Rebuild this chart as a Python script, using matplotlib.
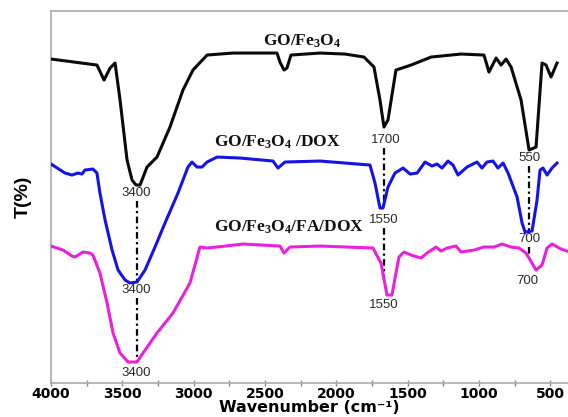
"""FTIR spectra of GO/Fe3O4, GO/Fe3O4/DOX and GO/Fe3O4/FA/DOX (stacked, offset)."""

import matplotlib

matplotlib.use("Agg")
import matplotlib.pyplot as plt
import numpy as np

plt.rcParams["mathtext.fontset"] = "custom"
plt.rcParams["mathtext.rm"] = "Liberation Serif:bold"
plt.rcParams["mathtext.it"] = "Liberation Serif:bold"
plt.rcParams["mathtext.bf"] = "Liberation Serif:bold"

# wavenumber (cm-1) / transmittance (arb., offset)
go_fe3o4_wn = [4000, 3678, 3628, 3586, 3551, 3516, 3467, 3432, 3404, 3376, 3327,
               3257, 3166, 3075, 3005, 2906, 2724, 2584, 2416, 2395, 2367, 2346,
               2318, 2114, 1939, 1806, 1736, 1694, 1666, 1638, 1582, 1476, 1336,
               1126, 965, 930, 880, 845, 810, 775, 705, 649, 600, 558, 530, 495, 453]
go_fe3o4_t = [324, 318, 303, 315, 320, 283, 223, 203, 198, 198, 216,
              226, 256, 293, 313, 328, 330, 330, 330, 321, 313, 315,
              328, 330, 329, 326, 316, 283, 256, 263, 313, 318, 326,
              329, 328, 311, 325, 318, 324, 316, 283, 233, 236, 320, 318, 306, 320]

dox_wn = [4000, 3902, 3853, 3811, 3783, 3762, 3706, 3678, 3657, 3621, 3572,
          3530, 3481, 3446, 3397, 3341, 3271, 3201, 3110, 3040, 3012, 2977,
          2941, 2906, 2836, 2675, 2444, 2409, 2360, 2114, 1764, 1729, 1694,
          1673, 1638, 1624, 1589, 1532, 1483, 1434, 1378, 1329, 1294, 1259,
          1217, 1182, 1147, 1084, 1014, 979, 944, 902, 867, 831, 796, 733,
          698, 677, 628, 593, 572, 551, 523, 488, 453]
dox_t = [219, 210, 208, 210, 209, 213, 214, 210, 190, 163, 133,
         113, 103, 100, 101, 113, 136, 160, 190, 216, 221, 216,
         216, 221, 226, 225, 222, 215, 221, 222, 218, 200, 175,
         175, 196, 200, 210, 215, 209, 210, 221, 217, 219, 215,
         222, 218, 208, 216, 221, 215, 221, 222, 215, 220, 210, 186,
         160, 151, 152, 183, 213, 215, 208, 215, 220]

fa_dox_wn = [4000, 3916, 3853, 3832, 3776, 3727, 3706, 3657, 3607, 3565, 3516,
             3460, 3397, 3355, 3257, 3145, 3026, 2956, 2906, 2836, 2654, 2395,
             2367, 2325, 2114, 1743, 1687, 1645, 1610, 1561, 1525, 1476, 1406,
             1364, 1301, 1266, 1224, 1161, 1126, 1035, 965, 895, 838, 775, 719,
             670, 600, 558, 523, 488, 425, 383]
fa_dox_t = [137, 133, 127, 126, 131, 130, 128, 110, 80, 50, 30,
            21, 21, 30, 50, 70, 100, 136, 135, 136, 139, 137,
            130, 136, 137, 135, 120, 88, 88, 126, 131, 128, 125,
            130, 136, 132, 135, 137, 131, 133, 136, 136, 139, 136, 135,
            130, 113, 118, 135, 139, 134, 132]

series_names = [r"GO/Fe$_3$O$_4$", r"GO/Fe$_3$O$_4$ /DOX", r"GO/Fe$_3$O$_4$/FA/DOX"]
series_colors = ["#0a0a0a", "#1414e6", "#ea1fe0"]

# marked bands: where the dash-dot guide sits, and the labels printed per curve
band_wn = [3400, 1665, 650]
band_labels = [["3400", "3400", "3400"], ["1700", "1550", "1550"], ["550", "700", "700"]]

fig = plt.figure(figsize=(5.68, 4.17), dpi=100)
ax = fig.add_axes([0.0898, 0.0815, 0.9102, 0.892])

curves = [(go_fe3o4_wn, go_fe3o4_t), (dox_wn, dox_t), (fa_dox_wn, fa_dox_t)]
for (wn, t), color in zip(curves, series_colors):
    ax.plot(wn, t, color=color, lw=2.2, solid_joinstyle="round", zorder=3)

# curve names
name_pos = [(2240, 342), (2416, 241), (2332, 156)]
for name, (x, y) in zip(series_names, name_pos):
    ax.text(x, y, name, ha="center", va="center", fontsize=12.5,
            family="Liberation Serif", weight="bold", color="#111111")

# band labels (x, y per curve) and dash-dot guides from label down to next dip
label_pos = [
    [(3400, 190), (3400, 93), (3400, 10)],
    [(1652, 243), (1666, 163), (1666, 78)],
    [(649, 225), (649, 144), (663, 102)],
]
for bi, wn0 in enumerate(band_wn):
    for ci in range(3):
        lx, ly = label_pos[bi][ci]
        ax.text(lx, ly, band_labels[bi][ci], ha="center", va="center", fontsize=9.5,
                family="Liberation Sans", color="#2a2a2a", zorder=4)
    for ci in range(2):
        top = label_pos[bi][ci][1] - 8
        wn_next, t_next = curves[ci + 1]
        bottom = np.interp(wn0, wn_next[::-1], t_next[::-1])
        ax.plot([wn0, wn0], [top, bottom], color="black", lw=1.6,
                ls=(0, (3, 1.5, 1, 1.5)), zorder=2)

ax.set_xlim(4000, 376)
ax.set_ylim(0, 372)
ax.set_xticks(np.arange(4000, 499, -500))
ax.set_xticks(np.arange(3750, 499, -250), minor=True)
ax.set_yticks([])
ax.tick_params(axis="x", which="both", direction="inout", length=4, width=1,
               color="#888888", pad=1)
for lab in ax.get_xticklabels():
    lab.set_fontweight("bold")
    lab.set_fontsize(10)
    lab.set_family("DejaVu Sans")
for side in ("left", "top", "bottom"):
    ax.spines[side].set_color("#aaaaaa")
    ax.spines[side].set_linewidth(1.2)
ax.spines["right"].set_visible(False)

ax.set_xlabel("Wavenumber (cm\u207b\u00b9)", fontsize=11.5, weight="bold",
              family="DejaVu Sans", labelpad=-1)
ax.set_ylabel("T(%)", fontsize=14, weight="bold", family="Liberation Sans", labelpad=14)

fig.savefig("out.png", dpi=100)
